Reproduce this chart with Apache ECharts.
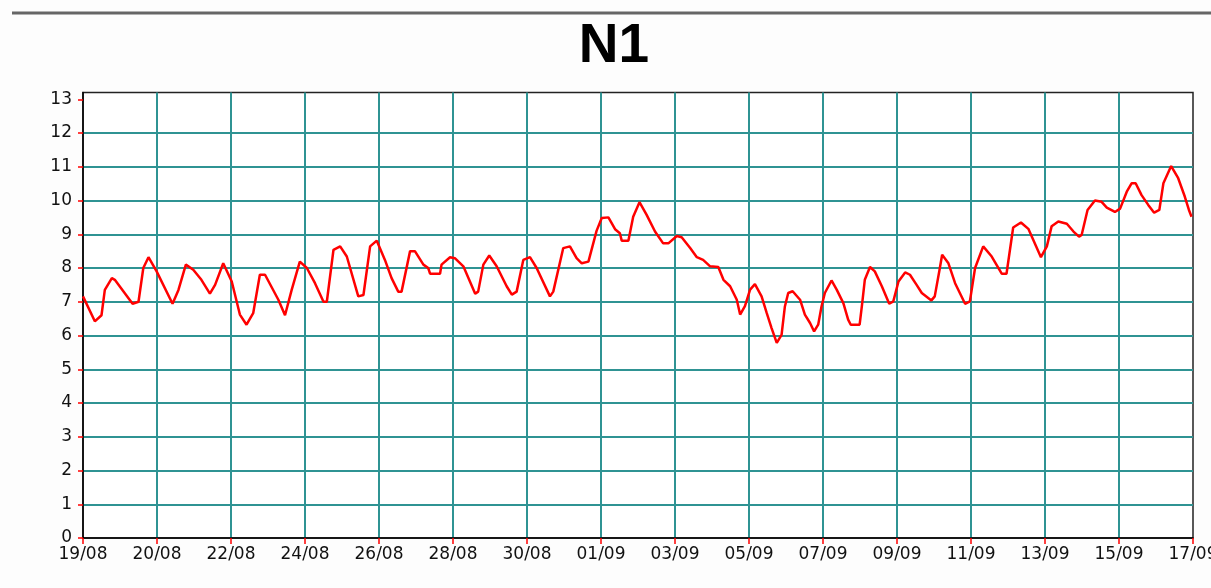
<!DOCTYPE html>
<html>
<head>
<meta charset="utf-8">
<script src="https://cdn.jsdelivr.net/npm/echarts@6/dist/echarts.min.js"></script>
<style>
html,body{margin:0;padding:0;background:#fdfdfd;}
#chart{width:1211px;height:588px;}
</style>
</head>
<body>
<div id="chart"></div>
<script>
var title = 'N1';
var xTickLabels = ['19/08','20/08','22/08','24/08','26/08','28/08','30/08','01/09','03/09','05/09','07/09','09/09','11/09','13/09','15/09','17/09'];
var yTicks = [0,1,2,3,4,5,6,7,8,9,10,11,12,13];
// time in days from the left edge of the chart
var days = [
0.00,0.32,0.50,0.59,0.78,0.86,1.34,1.50,1.63,1.77,1.99,2.42,2.58,2.78,2.98,3.20,3.43,3.57,3.79,4.02,
4.24,4.42,4.60,4.78,4.92,5.28,5.46,5.64,5.86,6.05,6.27,6.50,6.59,6.77,6.95,7.13,7.44,7.58,7.76,7.94,
8.16,8.34,8.52,8.61,8.84,8.97,9.20,9.33,9.38,9.65,9.69,9.92,10.05,10.28,10.60,10.68,10.82,10.98,11.18,11.45,
11.59,11.72,11.90,12.08,12.26,12.62,12.71,12.98,13.16,13.34,13.48,13.66,13.88,14.02,14.20,14.38,14.51,14.56,14.74,14.87,
15.04,15.23,15.46,15.68,15.82,16.05,16.18,16.41,16.59,16.76,16.95,17.17,17.31,17.49,17.67,17.76,17.89,18.03,18.16,18.34,
18.48,18.61,18.75,18.88,18.97,19.06,19.18,19.38,19.51,19.65,19.76,19.87,19.96,20.05,20.23,20.37,20.55,20.68,20.75,20.99,
21.06,21.13,21.27,21.40,21.59,21.79,21.90,22.04,22.22,22.35,22.53,22.67,22.93,23.02,23.15,23.22,23.39,23.57,23.84,23.97,
24.11,24.33,24.56,24.83,24.96,25.14,25.35,25.55,25.89,26.05,26.18,26.36,26.59,26.77,26.92,26.99,27.15,27.35,27.53,27.67,
27.89,28.03,28.21,28.34,28.45,28.61,28.79,28.95,29.09,29.20,29.41,29.60,29.78,29.89,29.96
];
var values = [
7.16,6.42,6.60,7.35,7.70,7.65,6.94,7.00,8.00,8.32,7.90,6.94,7.35,8.10,7.95,7.65,7.24,7.50,8.14,7.60,
6.62,6.32,6.66,7.80,7.80,7.06,6.60,7.35,8.19,8.00,7.55,7.00,7.00,8.54,8.64,8.34,7.16,7.20,8.64,8.81,
8.24,7.70,7.30,7.30,8.50,8.50,8.10,8.00,7.83,7.83,8.10,8.32,8.29,8.05,7.24,7.30,8.10,8.37,8.05,7.46,
7.21,7.30,8.24,8.32,8.00,7.16,7.30,8.59,8.64,8.29,8.14,8.19,9.10,9.48,9.50,9.15,9.03,8.81,8.81,9.52,
9.95,9.58,9.08,8.73,8.73,8.95,8.91,8.59,8.32,8.24,8.05,8.03,7.65,7.46,7.06,6.62,6.87,7.36,7.52,7.16,
6.66,6.22,5.78,6.02,6.86,7.26,7.31,7.06,6.62,6.37,6.12,6.32,6.86,7.26,7.63,7.36,6.96,6.47,6.32,6.32,
6.96,7.65,8.03,7.90,7.46,6.94,7.01,7.60,7.87,7.80,7.50,7.26,7.04,7.16,7.95,8.39,8.14,7.55,6.94,7.01,
8.00,8.64,8.34,7.83,7.83,9.20,9.35,9.16,8.32,8.64,9.24,9.38,9.31,9.08,8.93,8.98,9.72,10.00,9.96,9.79,
9.66,9.76,10.26,10.51,10.51,10.16,9.87,9.64,9.72,10.51,11.02,10.66,10.11,9.72,9.52
];
var yMin = 0, yMax = 13.2, yStep = 1;
var xMin = 0, xMax = 30, xStep = 2;

var seriesData = days.map(function (d, i) { return [d, values[i]]; });

var chart = echarts.init(document.getElementById('chart'), null, {renderer: 'canvas'});
var gridColor = '#2f9393';
var font = 'DejaVu Sans, Verdana, sans-serif';
chart.setOption({
  backgroundColor: '#fdfdfd',
  animation: false,
  title: {
    text: title, left: 609, textAlign: 'center', top: 14,
    textStyle: {fontFamily: 'Liberation Sans, Arial, sans-serif', fontSize: 55, fontWeight: 'bold', color: '#000'}
  },
  graphic: [{
    type: 'line', shape: {x1: 12, y1: 13, x2: 1211, y2: 13},
    style: {stroke: '#666', lineWidth: 3}
  }],
  grid: {
    left: 83, right: 18, top: 92.5, bottom: 50,
    outerBoundsMode: 'none', containLabel: false,
    show: true, backgroundColor: '#ffffff', borderColor: '#222', borderWidth: 1.5
  },
  xAxis: {
    type: 'value', min: xMin, max: xMax, interval: xStep,
    axisLine: {show: true, lineStyle: {color: '#000', width: 1.5}},
    axisTick: {show: true, length: 6, lineStyle: {color: '#ff0000', width: 1.5}},
    axisLabel: {
      margin: 8, color: '#111', fontFamily: font, fontSize: 17,
      formatter: function (v) { var k = Math.round(v / xStep); return xTickLabels[k] || ''; }
    },
    splitLine: {show: true, showMinLine: false, showMaxLine: false, lineStyle: {color: gridColor, width: 2}}
  },
  yAxis: {
    type: 'value', min: yMin, max: yMax, interval: yStep,
    axisLine: {show: true, lineStyle: {color: '#000', width: 1.5}},
    axisTick: {show: true, length: 5, customValues: yTicks, lineStyle: {color: '#ff0000', width: 1.5}},
    axisLabel: {
      margin: 11, color: '#111', fontFamily: font, fontSize: 17, customValues: yTicks,
      formatter: function (v) { return String(Math.round(v)); }
    },
    splitLine: {show: true, showMinLine: false, showMaxLine: false, lineStyle: {color: gridColor, width: 2}}
  },
  series: [{
    type: 'line', data: seriesData, showSymbol: false, smooth: false,
    lineStyle: {color: '#ff0000', width: 2.5}
  }]
});
</script>
</body>
</html>
